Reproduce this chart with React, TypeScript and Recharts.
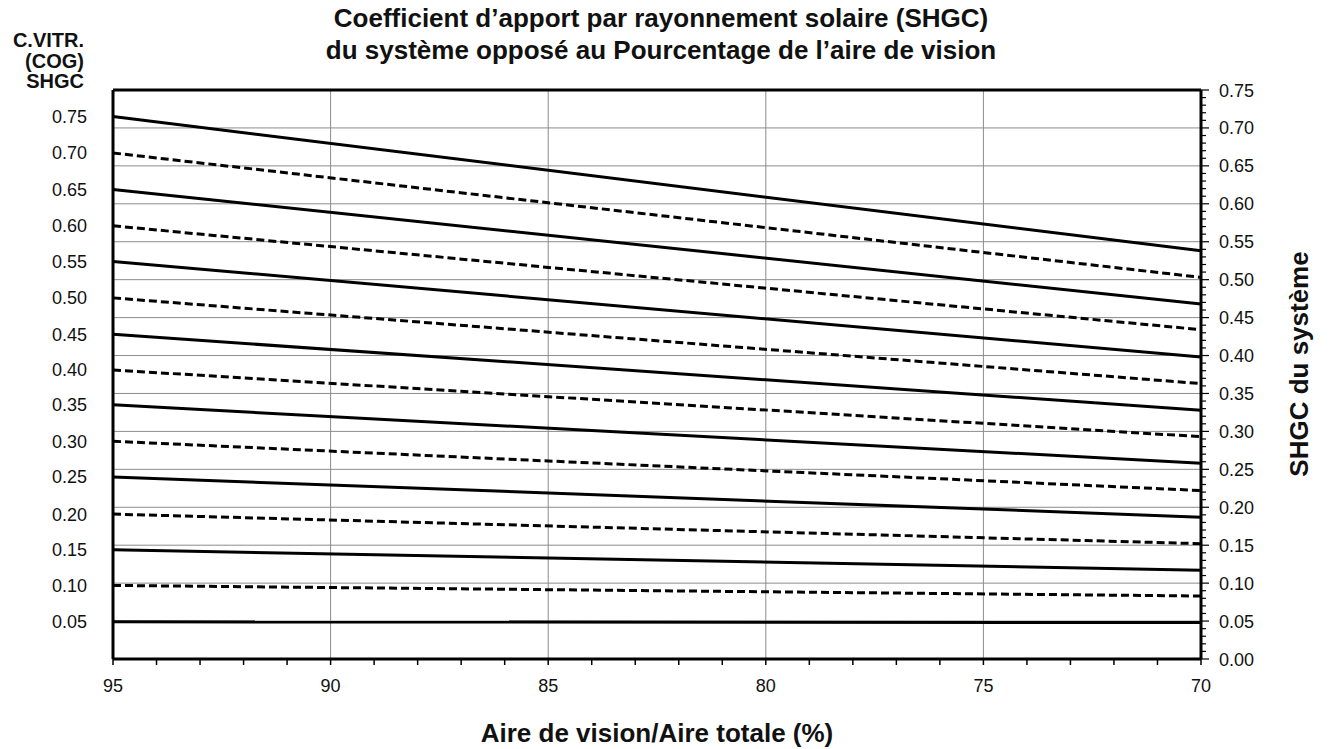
import React from "react";
import {
  LineChart,
  Line,
  XAxis,
  YAxis,
  CartesianGrid,
  ReferenceLine,
} from "recharts";

// % vision area (x axis runs from 95 down to 70)
const visionArea = [95, 70];

// centre-of-glass SHGC for each curve, top to bottom
const cogLabels = [
  "0.75", "0.70", "0.65", "0.60", "0.55", "0.50", "0.45", "0.40",
  "0.35", "0.30", "0.25", "0.20", "0.15", "0.10", "0.05",
];

// system SHGC read at 95 % and at 70 % vision area
const sysAt95 = [
  0.715, 0.667, 0.619, 0.571, 0.524, 0.476, 0.428, 0.381,
  0.335, 0.287, 0.24, 0.191, 0.144, 0.097, 0.049,
];
const sysAt70 = [
  0.538, 0.503, 0.468, 0.434, 0.398, 0.363, 0.328, 0.293,
  0.258, 0.222, 0.187, 0.152, 0.117, 0.083, 0.048,
];

const xTickLabels = ["95", "90", "85", "80", "75", "70"];
const yTickLabels = [
  "0.00", "0.05", "0.10", "0.15", "0.20", "0.25", "0.30", "0.35",
  "0.40", "0.45", "0.50", "0.55", "0.60", "0.65", "0.70", "0.75",
];

const W = 1329;
const H = 749;
const FONT = "'Liberation Sans', Arial, Helvetica, sans-serif";

const data = visionArea.map((area, i) => {
  const row: Record<string, number> = { area };
  cogLabels.forEach((_, k) => {
    row["s" + k] = i === 0 ? sysAt95[k] : sysAt70[k];
  });
  return row;
});

const xMajor = xTickLabels.map(Number);
const xAllTicks: number[] = [];
for (let v = 70; v <= 95; v++) xAllTicks.push(v);

const yMajor = yTickLabels.map(Number);
const yAllTicks: number[] = [];
for (let i = 0; i <= 75; i++) yAllTicks.push(i / 100);

const XTick = (props: any) => {
  const { x, y, payload } = props;
  const v = Math.round(payload.value);
  const major = v % 5 === 0;
  return (
    <g>
      <line x1={x} x2={x} y1={y} y2={y + 6} stroke="#000" strokeWidth={1.5} />
      {major && (
        <text x={x} y={y + 33} textAnchor="middle" fontSize={18} fill="#111">
          {xTickLabels[xMajor.indexOf(v)]}
        </text>
      )}
    </g>
  );
};

const RightTick = (props: any) => {
  const { x, y, payload } = props;
  const idx = Math.round(payload.value * 100);
  const major = idx % 5 === 0;
  return (
    <g>
      <line
        x1={x}
        x2={x + (major ? 8 : 5)}
        y1={y}
        y2={y}
        stroke="#000"
        strokeWidth={1.2}
      />
      {major && (
        <text x={x + 18} y={y + 6.5} textAnchor="start" fontSize={18} fill="#111">
          {yTickLabels[idx / 5]}
        </text>
      )}
    </g>
  );
};

const LeftTick = (props: any) => {
  const { x, y, payload } = props;
  const k = sysAt95.indexOf(payload.value);
  return (
    <text x={x - 26} y={y + 6.5} textAnchor="end" fontSize={18} fill="#111">
      {cogLabels[k]}
    </text>
  );
};

export default function App() {
  return (
    <div
      style={{
        position: "absolute",
        left: 0,
        top: 0,
        width: W,
        height: H,
        background: "#fff",
        fontFamily: FONT,
      }}
    >
      <LineChart
        width={W}
        height={H}
        data={data}
        margin={{ top: 90, right: 0, bottom: 0, left: 0 }}
      >
        <CartesianGrid
          xAxisId="x"
          yAxisId="sys"
          stroke="#8c8c8c"
          strokeWidth={1}
          horizontalValues={yMajor.slice(1, 15)}
          verticalValues={xMajor.slice(1, 5)}
        />
        <XAxis
          xAxisId="x"
          dataKey="area"
          type="number"
          domain={[70, 95]}
          reversed
          ticks={xAllTicks}
          interval={0}
          tick={<XTick />}
          tickLine={false}
          tickSize={0}
          tickMargin={0}
          height={90}
          axisLine={{ stroke: "#000", strokeWidth: 3 }}
        />
        <YAxis
          yAxisId="cog"
          orientation="left"
          type="number"
          domain={[0, 0.75]}
          allowDataOverflow
          ticks={sysAt95}
          interval={0}
          tick={<LeftTick />}
          tickLine={false}
          tickSize={0}
          tickMargin={0}
          width={113}
          axisLine={{ stroke: "#000", strokeWidth: 3 }}
        />
        <YAxis
          yAxisId="sys"
          orientation="right"
          type="number"
          domain={[0, 0.75]}
          allowDataOverflow
          ticks={yAllTicks}
          interval={0}
          tick={<RightTick />}
          tickLine={false}
          tickSize={0}
          tickMargin={0}
          width={128}
          axisLine={{ stroke: "#000", strokeWidth: 3 }}
        />
        <ReferenceLine
          xAxisId="x"
          yAxisId="sys"
          y={0.75}
          stroke="#000"
          strokeWidth={3}
        />
        {cogLabels.map((c, k) => (
          <Line
            key={c}
            xAxisId="x"
            yAxisId="sys"
            type="linear"
            dataKey={"s" + k}
            stroke="#000"
            strokeWidth={3}
            strokeDasharray={k % 2 === 1 ? "8 4" : undefined}
            dot={false}
            activeDot={false}
            isAnimationActive={false}
          />
        ))}
      </LineChart>

      <svg
        width={W}
        height={H}
        style={{ position: "absolute", left: 0, top: 0, pointerEvents: "none" }}
        fontFamily={FONT}
        fontWeight="bold"
        fill="#111"
      >
        <text x={661} y={27} textAnchor="middle" fontSize={26}>
          Coefficient d’apport par rayonnement solaire (SHGC)
        </text>
        <text x={661} y={59} textAnchor="middle" fontSize={26}>
          du système opposé au Pourcentage de l’aire de vision
        </text>
        <text x={84} textAnchor="end" fontSize={20}>
          <tspan x={84} y={47}>C.VITR.</tspan>
          <tspan x={84} y={68}>(COG)</tspan>
          <tspan x={84} y={88}>SHGC</tspan>
        </text>
        <text x={657} y={742} textAnchor="middle" fontSize={26}>
          Aire de vision/Aire totale (%)
        </text>
        <text
          transform="translate(1308 364) rotate(-90)"
          textAnchor="middle"
          fontSize={26}
        >
          SHGC du système
        </text>
      </svg>
    </div>
  );
}
